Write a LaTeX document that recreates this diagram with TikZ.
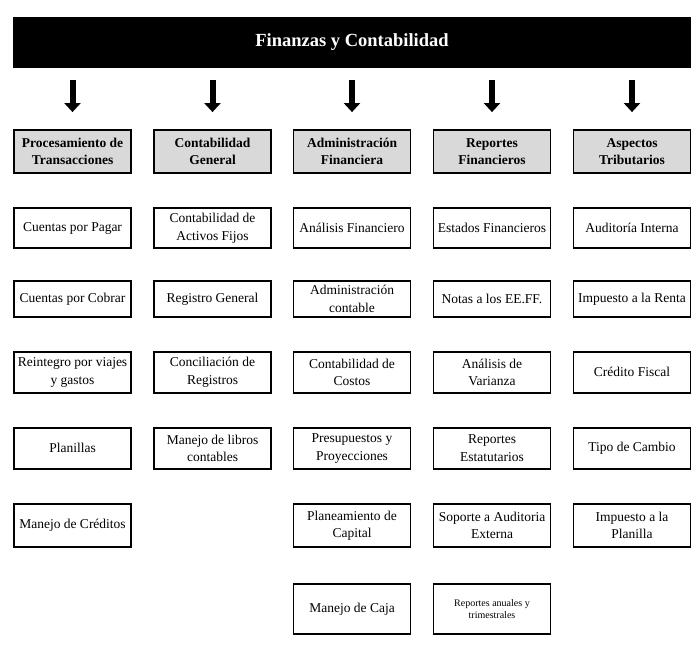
\documentclass[tikz,border=0pt]{standalone}
\usepackage{fontspec}
\setmainfont{Liberation Serif}
\usetikzlibrary{arrows.meta}
\tikzset{
	titlebar/.style={fill=black, text=white, minimum width=678pt, minimum height=51pt, inner sep=0pt, font=\fontsize{18.5}{22}\selectfont\bfseries},
	headbox/.style={draw, line width=1.8pt, fill=black!15, minimum width=117pt, minimum height=43pt, inner sep=0pt, align=center, font=\fontsize{13.5}{17}\selectfont\bfseries},
	itembox/.style={draw, line width=1.8pt, minimum width=117pt, inner sep=0pt, align=center, font=\fontsize{13.5}{17.5}\selectfont},
	downarrow/.style={line width=6pt, -{Triangle[width=16pt,length=9pt]}, shorten <=12pt, shorten >=17pt},
}

\begin{document}
\begin{tikzpicture}[x=1pt, y=-1pt]
			%%%%% START %%%%%
			\useasboundingbox (0, 0) rectangle (700, 667);
			
			\node[titlebar] (fin) at (352, 42.5) {Finanzas y Contabilidad};
			
			\node[headbox] (proc) at (72.5, 151.5) {Procesamiento de\\Transacciones};
			\node[headbox] (cont) at (212.5, 151.5) {Contabilidad\\General};
			\node[headbox] (adm) at (352, 151.5) {Administración\\Financiera};
			\node[headbox] (rep) at (492, 151.5) {Reportes\\Financieros};
			\node[headbox] (trib) at (632, 151.5) {Aspectos\\Tributarios};
			
			\draw[downarrow] (fin.south -| proc.north) -- (proc.north);
			\draw[downarrow] (fin.south -| cont.north) -- (cont.north);
			\draw[downarrow] (fin.south -| adm.north) -- (adm.north);
			\draw[downarrow] (fin.south -| rep.north) -- (rep.north);
			\draw[downarrow] (fin.south -| trib.north) -- (trib.north);
			
			% Procesamiento de Transacciones
			\node[itembox, minimum height=40pt] (proc1) at (72.5, 228) {Cuentas por Pagar};
			\node[itembox, minimum height=36pt] (proc2) at (72.5, 299) {Cuentas por Cobrar};
			\node[itembox, minimum height=41pt] (proc3) at (72.5, 372.3) {Reintegro por viajes\\y gastos};
			\node[itembox, minimum height=41pt] (proc4) at (72.5, 448.3) {Planillas};
			\node[itembox, minimum height=43pt] (proc5) at (72.5, 525.5) {Manejo de Créditos};
			
			% Contabilidad General
			\node[itembox, minimum height=40pt] (cont1) at (212.5, 228) {Contabilidad de\\Activos Fijos};
			\node[itembox, minimum height=36pt] (cont2) at (212.5, 299) {Registro General};
			\node[itembox, minimum height=41pt] (cont3) at (212.5, 372.3) {Conciliación de\\Registros};
			\node[itembox, minimum height=41pt] (cont4) at (212.5, 448.3) {Manejo de libros\\contables};
			
			% Administracion Financiera
			\node[itembox, minimum height=40pt] (adm1) at (352, 228) {Análisis Financiero};
			\node[itembox, minimum height=36pt] (adm2) at (352, 299) {Administración\\contable};
			\node[itembox, minimum height=41pt] (adm3) at (352, 372.3) {Contabilidad de\\Costos};
			\node[itembox, minimum height=41pt] (adm4) at (352, 448.3) {Presupuestos y\\Proyecciones};
			\node[itembox, minimum height=43pt] (adm5) at (352, 525.5) {Planeamiento de\\Capital};
			\node[itembox, minimum height=50pt] (adm6) at (352, 609) {Manejo de Caja};
			
			% Reportes Financieros
			\node[itembox, minimum height=40pt] (rep1) at (492, 228) {Estados Financieros};
			\node[itembox, minimum height=36pt] (rep2) at (492, 299) {Notas a los EE.FF.};
			\node[itembox, minimum height=41pt] (rep3) at (492, 372.3) {Análisis de\\Varianza};
			\node[itembox, minimum height=41pt] (rep4) at (492, 448.3) {Reportes\\Estatutarios};
			\node[itembox, minimum height=43pt] (rep5) at (492, 525.5) {Soporte a Auditoria\\Externa};
			\node[itembox, minimum height=50pt, font=\fontsize{10}{12}\selectfont] (rep6) at (492, 609) {Reportes anuales y\\trimestrales};
			
			% Aspectos Tributarios
			\node[itembox, minimum height=40pt] (trib1) at (632, 228) {Auditoría Interna};
			\node[itembox, minimum height=36pt] (trib2) at (632, 299) {Impuesto a la Renta};
			\node[itembox, minimum height=41pt] (trib3) at (632, 372.3) {Crédito Fiscal};
			\node[itembox, minimum height=41pt] (trib4) at (632, 448.3) {Tipo de Cambio};
			\node[itembox, minimum height=43pt] (trib5) at (632, 525.5) {Impuesto a la\\Planilla};
			
			%%%%% END %%%%%
\end{tikzpicture}
\end{document}
